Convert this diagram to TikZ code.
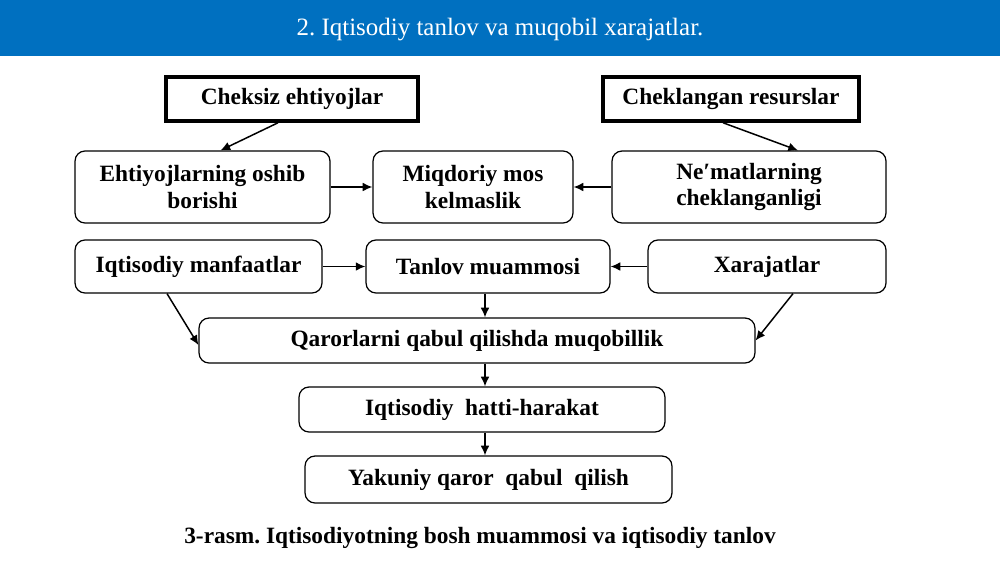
\documentclass[tikz,border=0pt]{standalone}
\usepackage{fontspec}
\setmainfont{Liberation Serif}
\usetikzlibrary{arrows.meta}
\definecolor{titleblue}{RGB}{0,112,192}
\frenchspacing

\begin{document}
\begin{tikzpicture}[x=0.02cm,y=-0.02cm,line width=0.7pt,
    box/.style={draw,rounded corners=0.2cm,inner sep=0pt,align=center,
      font=\fontsize{13.3}{15.3}\selectfont\bfseries},
    topbox/.style={box,rounded corners=0pt,line width=2pt},
    arr/.style={-{Latex[length=5.5pt,width=5pt]},line width=0.85pt}]
  \useasboundingbox (0,0) rectangle (1000,562);
  % title bar
  \fill[titleblue] (0,0) rectangle (1000,56);
     \node[text=white,font=\fontsize{14.2}{16}\selectfont] (title) at (500,30) {2. Iqtisodiy tanlov va muqobil xarajatlar.};
  % centres
      \coordinate (C1) at (292,99);
        \coordinate (C2) at (731,99);
     \coordinate (E) at (202.5,187);
        \coordinate (M) at (473,187);
     \coordinate (N) at (749,187);
        \coordinate (I) at (198.5,266.5);
     \coordinate (T) at (488,266.5);
        \coordinate (X) at (767,266.5);
     \coordinate (Q) at (477,340.5);
        \coordinate (H) at (482,409.5);
     \coordinate (Y) at (488.5,479.5);
  % boxes
  \node[topbox,minimum width=5.04cm,minimum height=0.88cm] (cheksiz) at (C1) {Cheksiz ehtiyojlar};
  \node[topbox,minimum width=5.12cm,minimum height=0.88cm] (cheklangan) at (C2) {Cheklangan resurslar};
  \node[box,minimum width=5.1cm,minimum height=1.44cm] (ehtiyoj) at (E) {Ehtiyojlarning oshib\\borishi};
  \node[box,minimum width=4cm,minimum height=1.44cm] (miqdoriy) at (M) {Miqdoriy mos\\kelmaslik};
  \node[box,minimum width=5.48cm,minimum height=1.44cm] (nemat) at (N) {Ne′matlarning\\cheklanganligi};
  \node[box,minimum width=4.94cm,minimum height=1.06cm] (manfaat) at (I) {Iqtisodiy manfaatlar};
  \node[box,minimum width=4.88cm,minimum height=1.06cm] (tanlov) at (T) {Tanlov muammosi};
  \node[box,minimum width=4.76cm,minimum height=1.06cm] (xarajat) at (X) {Xarajatlar};
  \node[box,minimum width=11.12cm,minimum height=0.9cm] (qaror) at (Q) {Qarorlarni qabul qilishda muqobillik};
  \node[box,minimum width=7.32cm,minimum height=0.9cm] (harakat) at (H) {Iqtisodiy\ \ hatti-harakat};
  \node[box,minimum width=7.34cm,minimum height=0.94cm] (yakuniy) at (Y) {Yakuniy qaror\ \ qabul\ \ qilish};
  % arrows
  \draw[arr] ([xshift=-0.28cm]cheksiz.south)--([xshift=0.36cm]ehtiyoj.north);
  \draw[arr] ([xshift=-0.16cm]cheklangan.south)--([xshift=0.98cm]nemat.north);
  \draw[arr] (ehtiyoj.east)--(miqdoriy.west);
  \draw[arr] (nemat.west)--(miqdoriy.east);
  \draw[arr] (manfaat.east)--(tanlov.west);
  \draw[arr] (xarajat.west)--(tanlov.east);
  \draw[arr] ([xshift=-0.63cm]manfaat.south)--([yshift=-0.09cm]qaror.west);
  \draw[arr] ([xshift=0.52cm]xarajat.south)--(qaror.east);
  \draw[arr] ([xshift=-0.06cm]tanlov.south)--([xshift=-0.06cm]tanlov.south |- qaror.north);
  \draw[arr] ([xshift=0.16cm]qaror.south)--([xshift=0.16cm]qaror.south |- harakat.north);
  \draw[arr] ([xshift=0.06cm]harakat.south)--([xshift=0.06cm]harakat.south |- yakuniy.north);
  % caption
  \node[font=\fontsize{13.3}{15}\selectfont\bfseries] (caption) at (480,538) {3-rasm. Iqtisodiyotning bosh muammosi va iqtisodiy tanlov};
\end{tikzpicture}
\end{document}
